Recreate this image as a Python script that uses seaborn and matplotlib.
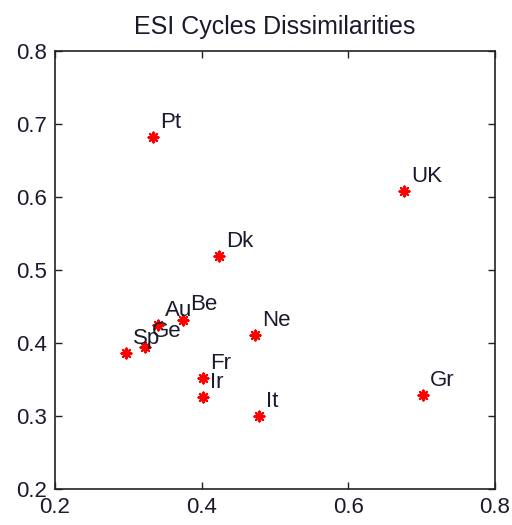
import matplotlib
matplotlib.use("Agg")
import matplotlib.pyplot as plt
import seaborn as sns
import pandas as pd

countries = ["Pt", "UK", "Dk", "Au", "Be", "Ge", "Sp", "Ne", "Fr", "Ir", "It", "Gr"]
dim1 = [0.334, 0.676, 0.424, 0.340, 0.375, 0.323, 0.297, 0.473, 0.402, 0.402, 0.478, 0.702]
dim2 = [0.682, 0.608, 0.519, 0.425, 0.432, 0.395, 0.386, 0.411, 0.352, 0.326, 0.300, 0.329]
xticks = [0.2, 0.4, 0.6, 0.8]
yticks = [0.2, 0.3, 0.4, 0.5, 0.6, 0.7, 0.8]

df = pd.DataFrame({"country": countries, "x": dim1, "y": dim2})

sns.set_style("white")
plt.rcParams["font.family"] = ["Liberation Sans", "DejaVu Sans"]

fig = plt.figure(figsize=(5.12, 5.25), dpi=100)
ax = fig.add_axes([55 / 512, 1 - 489 / 525, 440 / 512, 438 / 525])

sns.scatterplot(data=df, x="x", y="y", ax=ax, color="red", marker="o", s=22,
                edgecolor="red", linewidth=0, zorder=3)
sns.scatterplot(data=df, x="x", y="y", ax=ax, color="red", marker=(8, 2, 0), s=50,
                edgecolor="red", linewidth=1.6, zorder=3)

for c, xv, yv in zip(countries, dim1, dim2):
    ax.annotate(c, (xv, yv), xytext=(5, 3), textcoords="offset points",
                ha="left", va="bottom", fontsize=16, color="#1a1a2e")

ax.set_xlim(0.2, 0.8)
ax.set_ylim(0.2, 0.8)
ax.set_xticks(xticks)
ax.set_yticks(yticks)
ax.set_xticklabels([f"{v:g}" for v in xticks], fontsize=16)
ax.set_yticklabels([f"{v:g}" for v in yticks], fontsize=16)
ax.set_xlabel("")
ax.set_ylabel("")
ax.tick_params(direction="in", length=5, width=1, top=True, right=True, bottom=True, left=True,
               pad=6, colors="#222222", labelcolor="#1a1a2e")
for sp in ax.spines.values():
    sp.set_visible(True)
    sp.set_color("#222222")
    sp.set_linewidth(1.2)
ax.set_title("ESI Cycles Dissimilarities", fontsize=18, color="#1a1a2e", pad=12)

fig.savefig("out.png", dpi=100)
